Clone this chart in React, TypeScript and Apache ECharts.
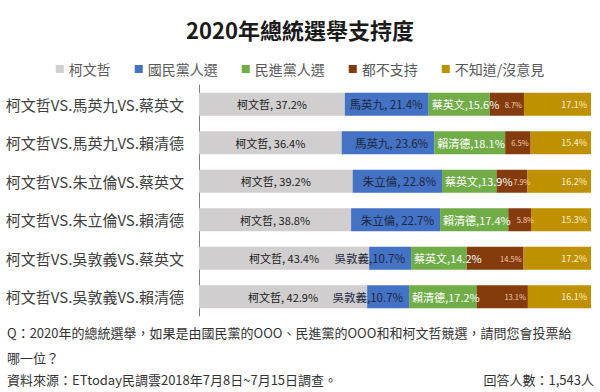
import React, { useEffect, useRef } from "react";
import * as echarts from "echarts";

const categories = [
  "柯文哲VS.馬英九VS.蔡英文",
  "柯文哲VS.馬英九VS.賴清德",
  "柯文哲VS.朱立倫VS.蔡英文",
  "柯文哲VS.朱立倫VS.賴清德",
  "柯文哲VS.吳敦義VS.蔡英文",
  "柯文哲VS.吳敦義VS.賴清德",
];

const seriesNames = ["柯文哲", "國民黨人選", "民進黨人選", "都不支持", "不知道/沒意見"];

const koValues = [37.2, 36.4, 39.2, 38.8, 43.4, 42.9];
const kmtValues = [21.4, 23.6, 22.8, 22.7, 10.7, 10.7];
const dppValues = [15.6, 18.1, 13.9, 17.4, 14.2, 17.2];
const noneValues = [8.7, 6.5, 7.9, 5.8, 14.5, 13.1];
const unknownValues = [17.1, 15.4, 16.2, 15.3, 17.2, 16.1];

const kmtNames = ["馬英九", "馬英九", "朱立倫", "朱立倫", "吳敦義", "吳敦義"];
const kmtSeps = [", ", ", ", ", ", ", ", ",", ","];
const dppNames = ["蔡英文", "賴清德", "蔡英文", "賴清德", "蔡英文", "賴清德"];

const titleText = "2020年總統選舉支持度";
const questionLine1 = "Q：2020年的總統選舉，如果是由國民黨的OOO、民進黨的OOO和和柯文哲競選，請問您會投票給";
const questionLine2 = "哪一位？";
const sourceText = "資料來源：ETtoday民調雲2018年7月8日~7月15日調查。";
const countText = "回答人數：1,543人";

const FONT = "'Noto Sans CJK TC', 'Noto Sans', sans-serif";

export default function App() {
  const ref = useRef<HTMLDivElement>(null);
  useEffect(() => {
    if (!ref.current) return;
    const chart = echarts.init(ref.current, undefined, { renderer: "svg" });
    const pct = (v: number) => v.toFixed(1) + "%";
    const colors = ["#d0cece", "#4472c4", "#70ad47", "#843c0c", "#bf9000"];
    const base = {
      type: "bar" as const,
      stack: "total",
      barWidth: 23,
    };
    // rows where the brown label spills slightly to the right, as in the reference
    const brownData = noneValues.map((v, i) =>
      i === 2 || i === 3 ? { value: v, label: { offset: [5, 0] } } : v
    );
    chart.setOption({
      animation: false,
      textStyle: { fontFamily: FONT },
      color: colors,
      title: {
        text: titleText,
        left: "center",
        top: 13,
        textStyle: { fontSize: 22, fontWeight: "bold", color: "#1a1a1a", fontFamily: FONT },
      },
      legend: {
        top: 57,
        left: "center",
        itemWidth: 8,
        itemHeight: 8,
        itemGap: 24,
        icon: "rect",
        data: seriesNames,
        textStyle: { fontSize: 14, color: "#595959", fontFamily: FONT, padding: [0, 0, 0, 0] },
      },
      grid: { left: 199, right: 9, top: 85, bottom: 76 },
      xAxis: { type: "value", min: 0, max: 100, show: false },
      yAxis: {
        type: "category",
        data: categories,
        inverse: true,
        axisLine: { show: true, lineStyle: { color: "#808080", width: 1 } },
        axisTick: { show: false },
        axisLabel: { fontSize: 15, color: "#404040", margin: 15, fontFamily: FONT },
      },
      series: [
        {
          ...base,
          name: seriesNames[0],
          data: koValues,
          label: {
            show: true,
            position: "inside",
            fontSize: 11,
            color: "#1a1a1a",
            fontFamily: FONT,
            formatter: (p: any) => seriesNames[0] + ", " + pct(p.value),
          },
        },
        {
          ...base,
          name: seriesNames[1],
          data: kmtValues,
          label: {
            show: true,
            position: "insideRight",
            distance: 6,
            fontSize: 11.5,
            color: "#1c2740",
            fontFamily: FONT,
            formatter: (p: any) => kmtNames[p.dataIndex] + kmtSeps[p.dataIndex] + pct(p.value),
          },
        },
        {
          ...base,
          name: seriesNames[2],
          data: dppValues,
          label: {
            show: true,
            position: "insideLeft",
            distance: 3,
            fontSize: 11,
            color: "#ffffff",
            fontFamily: FONT,
            formatter: (p: any) => dppNames[p.dataIndex] + "," + pct(p.value),
          },
        },
        {
          ...base,
          name: seriesNames[3],
          data: brownData,
          label: {
            show: true,
            position: "insideRight",
            distance: 2,
            fontSize: 7.5,
            color: "#f8cbad",
            fontFamily: FONT,
            formatter: (p: any) => pct(p.value),
          },
        },
        {
          ...base,
          name: seriesNames[4],
          data: unknownValues,
          label: {
            show: true,
            position: "insideRight",
            distance: 4,
            fontSize: 9,
            color: "#fff2cc",
            fontFamily: FONT,
            formatter: (p: any) => pct(p.value),
          },
        },
      ],
      graphic: [
        {
          type: "text",
          left: 7,
          top: 326,
          style: { text: questionLine1, fontSize: 13, fill: "#333333", fontFamily: FONT },
        },
        {
          type: "text",
          left: 7,
          top: 351,
          style: { text: questionLine2, fontSize: 13, fill: "#333333", fontFamily: FONT },
        },
        {
          type: "text",
          left: 7,
          top: 373,
          style: { text: sourceText, fontSize: 13, fill: "#333333", fontFamily: FONT },
        },
        {
          type: "text",
          right: 6,
          top: 373,
          style: { text: countText, fontSize: 13, fill: "#333333", fontFamily: FONT },
        },
      ],
    });
    return () => chart.dispose();
  }, []);
  return (
    <div
      ref={ref}
      style={{ position: "fixed", left: 0, top: 0, width: 600, height: 392, background: "#ffffff" }}
    />
  );
}
